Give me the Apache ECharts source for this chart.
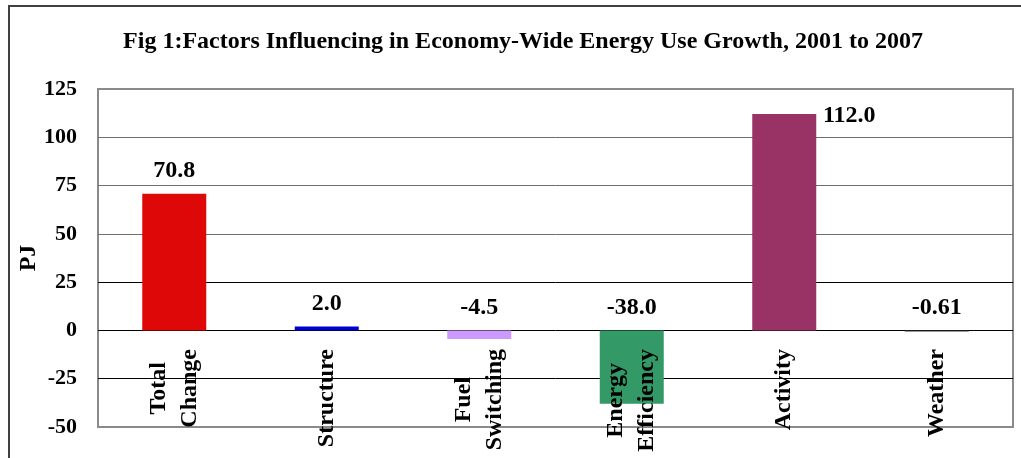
<!DOCTYPE html>
<html>
<head>
<meta charset="utf-8">
<script src="https://cdn.jsdelivr.net/npm/echarts@6/dist/echarts.min.js"></script>
<style>html,body{margin:0;padding:0;background:#fff;}#c{width:1021px;height:458px;}</style>
</head>
<body>
<div id="c"></div>
<script>
const categories = ['Total\nChange', 'Structure', 'Fuel\nSwitching', 'Energy\nEfficiency', 'Activity', 'Weather'];
const values = [70.8, 2.0, -4.5, -38.0, 112.0, -0.61];
const valueLabels = ['70.8', '2.0', '-4.5', '-38.0', '112.0', '-0.61'];
const barColors = ['#DF0808', '#0000CC', '#CC99FF', '#339966', '#993366', '#333333'];
const yTicks = { min: -50, max: 125, interval: 25 };
const titleText = 'Fig 1:Factors Influencing in Economy-Wide Energy Use Growth, 2001 to 2007';

const FONT = "'Liberation Serif', 'Times New Roman', serif";
const chart = echarts.init(document.getElementById('c'), null, { renderer: 'canvas' });

const data = values.map((v, i) => {
  const item = {
    value: v,
    itemStyle: { color: barColors[i] },
    label: { formatter: valueLabels[i] }
  };
  if (i === 4) item.label.offset = [65, 25];
  return item;
});

chart.setOption({
  animation: false,
  backgroundColor: '#fff',
  title: {
    text: titleText,
    left: 523,
    textAlign: 'center',
    top: 30,
    padding: 0,
    textStyle: { fontFamily: FONT, fontWeight: 'bold', fontSize: 24, color: '#000' }
  },
  graphic: [{
    type: 'rect',
    shape: { x: 9, y: 6, width: 1100, height: 500 },
    style: { fill: 'none', stroke: '#404040', lineWidth: 2 },
    silent: true
  }],
  grid: {
    left: 98, right: 8, top: 89, bottom: 31,
    containLabel: false,
    outerBoundsMode: 'none',
    show: true, borderColor: '#8a8a8a', borderWidth: 2, backgroundColor: 'transparent'
  },
  xAxis: {
    type: 'category',
    data: categories,
    z: 10,
    axisLine: { show: false, onZero: false },
    axisTick: { show: false },
    axisLabel: {
      interval: 0,
      rotate: 90,
      margin: -78,
      hideOverlap: false,
      color: '#000',
      fontFamily: FONT,
      fontWeight: 'bold',
      fontSize: 24,
      lineHeight: 31,
      formatter: function (v) {
        return v.split('\n').map(s => '{c|' + s + '}').join('\n');
      },
      rich: {
        c: { align: 'center', fontFamily: FONT, fontWeight: 'bold', fontSize: 24, lineHeight: 31, color: '#000' }
      }
    },
    splitLine: { show: false }
  },
  yAxis: {
    type: 'value',
    min: yTicks.min,
    max: yTicks.max,
    interval: yTicks.interval,
    name: 'PJ',
    nameLocation: 'middle',
    nameRotate: 90,
    nameGap: 57,
    nameMoveOverlap: false,
    nameTextStyle: { fontFamily: FONT, fontWeight: 'bold', fontSize: 24, color: '#000' },
    axisLine: { show: false },
    axisTick: { show: false },
    axisLabel: { margin: 21, color: '#000', fontFamily: FONT, fontWeight: 'bold', fontSize: 22 },
    splitLine: {
      show: true,
      lineStyle: { color: ['#8a8a8a', '#000', '#000', '#000', '#6e6e6e', '#6e6e6e', '#6e6e6e', '#8a8a8a'], width: 1 }
    }
  },
  series: [{
    type: 'bar',
    data: data,
    barWidth: 64,
    label: {
      show: true,
      position: 'top',
      distance: 11,
      color: '#000',
      fontFamily: FONT,
      fontWeight: 'bold',
      fontSize: 24
    }
  }]
});
</script>
</body>
</html>
